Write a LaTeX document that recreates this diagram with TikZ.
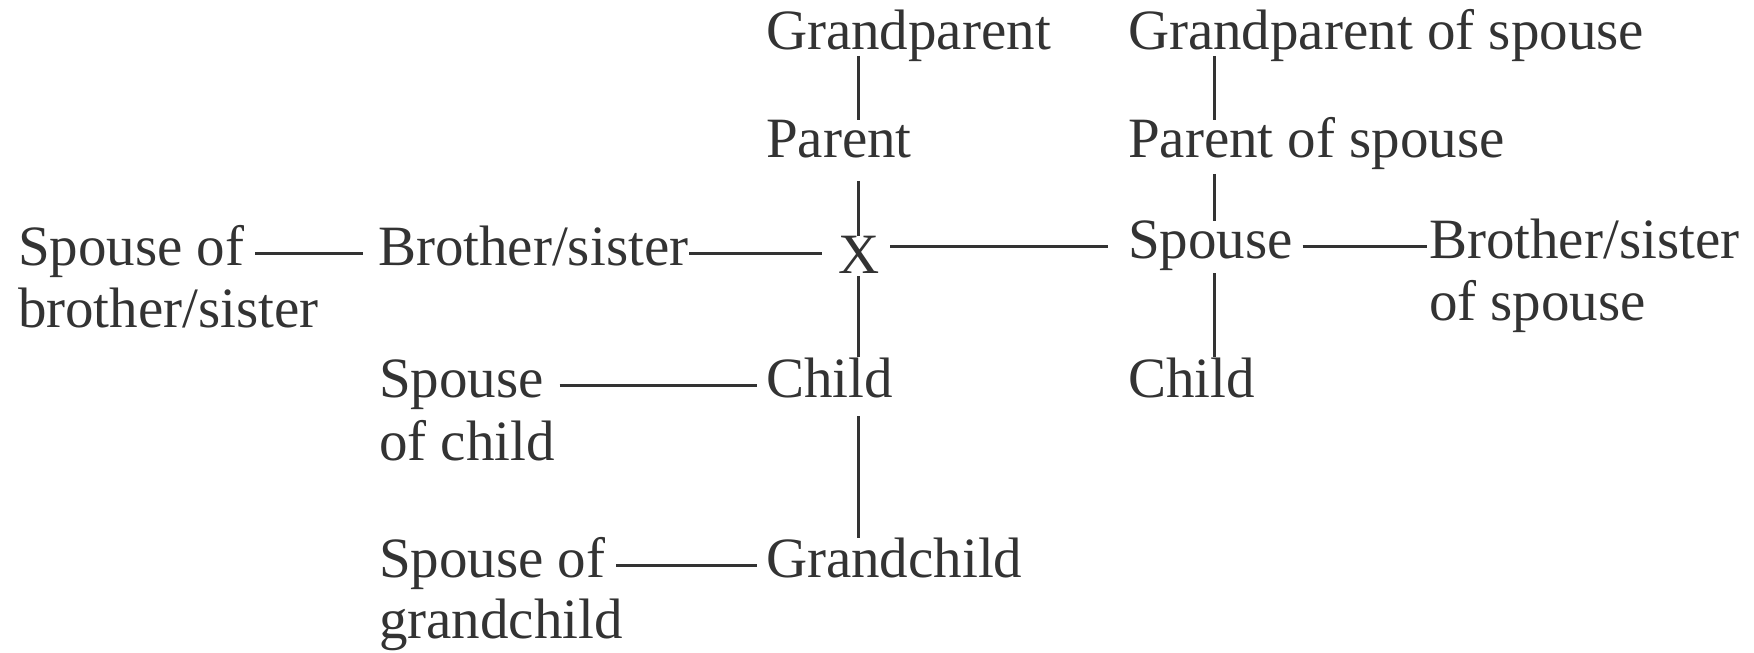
\documentclass[tikz,border=0pt]{standalone}
\usepackage{fontspec}
\setmainfont{Liberation Serif}
\usetikzlibrary{calc}
\definecolor{inkgray}{HTML}{333333}

\begin{document}
\begin{tikzpicture}[
            color=inkgray,
            x=0.2pt, y=-0.2pt,
            font=\fontsize{11.4}{14}\selectfont,
            lbl/.style={anchor=base west, inner sep=0pt, text height=7.2pt, text depth=0pt},
            link/.style={line width=0.6pt}
            ]
        \useasboundingbox (0,0) rectangle (1754,652);

        % own line
        \node[lbl] (gp)   at (765,50)   {Grandparent};
        \node[lbl] (par)  at (765,157)  {Parent};
        \node[lbl] (x)    at (837,273)  {X};
        \node[lbl] (ch)   at (765,397)  {Child};
        \node[lbl] (gch)  at (765,577)  {Grandchild};

        % siblings and spouses of descendants
        \node[lbl] (sob)  at (17,265)   {Spouse of};
        \node[lbl] (sob2) at (17,327)   {brother/sister};
        \node[lbl] (bs)   at (377,265)  {Brother/sister};
        \node[lbl] (soc)  at (378,397)  {Spouse};
        \node[lbl] (soc2) at (378,460)  {of child};
        \node[lbl] (sog)  at (378,577)  {Spouse of};
        \node[lbl] (sog2) at (378,638)  {grandchild};

        % spouse's line
        \node[lbl] (gps)  at (1127,50)  {Grandparent of spouse};
        \node[lbl] (ps)   at (1127,157) {Parent of spouse};
        \node[lbl] (sp)   at (1127,258) {Spouse};
        \node[lbl] (chs)  at (1127,397) {Child};
        \node[lbl] (bss)  at (1428,258) {Brother/sister};
        \node[lbl] (bss2) at (1428,320) {of spouse};

        \draw[link, shorten <=1pt] (gp.south -| x) -- (par.north -| x);
        \draw[link, shorten <=4.6pt] (par.south -| x) -- (x.north);
        \draw[link, shorten <=0.4pt, shorten >=0.6pt] (x.south) -- (ch.north -| x);
        \draw[link, shorten <=3.6pt, shorten >=0.4pt] (ch.south -| x) -- (gch.north -| x);

        \draw[link, shorten <=1pt] ([xshift=17.4pt]gps.south west) -- ([xshift=17.4pt]ps.north west);
        \draw[link, shorten <=3.2pt] ([xshift=17.4pt]ps.south west) -- ([xshift=17.4pt]sp.north west);
        \draw[link, shorten <=2.8pt, shorten >=0.6pt] ([xshift=17.4pt]sp.south west) -- ([xshift=17.4pt]chs.north west);

        \draw[link, shorten <=2pt, shorten >=2.8pt] (sob.mid east) -- (bs.mid west);
        \draw[link, shorten >=3pt] (bs.mid east) -- (x.west |- bs.mid);
        \draw[link, shorten <=2pt, shorten >=3.8pt] (x.east |- sp.mid) -- (sp.mid west);
        \draw[link, shorten <=1.8pt, shorten >=0.2pt] (sp.mid east) -- (bss.mid west);
        \draw[link, shorten <=3pt, shorten >=1.6pt] (soc.mid east) -- (ch.mid west);
        \draw[link, shorten <=2pt, shorten >=1.6pt] (sog.mid east) -- (gch.mid west);
    \end{tikzpicture}
\end{document}
